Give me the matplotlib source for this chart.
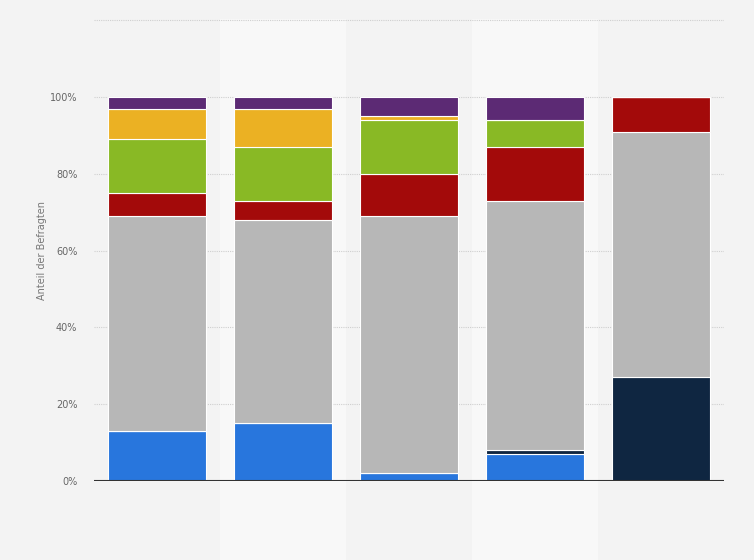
import matplotlib.pyplot as plt
import matplotlib.transforms as mtransforms
from matplotlib.patches import Rectangle
import numpy as np

# values in percent, stacked bottom -> top
groups = ["1", "2", "3", "4", "5"]
blue = [13, 15, 2, 7, 0]
navy = [0, 0, 0, 1, 27]
gray = [56, 53, 67, 65, 64]
red = [6, 5, 11, 14, 9]
green = [14, 14, 14, 7, 0]
orange = [8, 10, 1, 0, 0]
purple = [3, 3, 5, 6, 0]

series = [blue, navy, gray, red, green, orange, purple]
colors = ["#2876dd", "#0f2641", "#b7b7b7", "#a30a0a", "#89b925", "#ebb123", "#5c2a74"]

y_ticks = [0, 20, 40, 60, 80, 100]
y_tick_labels = ["0%", "20%", "40%", "60%", "80%", "100%"]

fig = plt.figure(figsize=(7.54, 5.6), dpi=100)
fig.patch.set_facecolor("#f3f3f3")
ax = fig.add_axes([0.1247, 0.141, 0.8355, 0.825])
ax.set_facecolor("#f3f3f3")

x = np.arange(len(groups))

# alternating column bands, running down to the bottom of the figure
trans = mtransforms.blended_transform_factory(ax.transData, ax.transAxes)
for i in x:
    if i % 2 == 1:
        ax.add_patch(Rectangle((i - 0.5, -0.18), 1.0, 1.18, transform=trans,
                               facecolor="#f8f8f8", lw=0, zorder=0, clip_on=False))

# dotted grid
for g in [20, 40, 60, 80, 100, 120]:
    ax.axhline(g, color="#cfcfcf", lw=0.8, ls=(0, (1, 1)), zorder=1)

bottom = np.zeros(len(groups))
for vals, c in zip(series, colors):
    vals = np.array(vals, dtype=float)
    ax.bar(x, vals, bottom=bottom, width=0.775, color=c, edgecolor="white",
           linewidth=0.8, zorder=2)
    bottom += vals

ax.axhline(0, color="#333333", lw=1.5, zorder=3)

ax.set_xlim(-0.5, len(groups) - 0.5)
ax.set_ylim(0, 120.3)
ax.set_xticks([])
ax.set_yticks(y_ticks)
ax.set_yticklabels(y_tick_labels, fontsize=7, color="#666666")
ax.tick_params(axis="y", length=0, pad=12)
for s in ax.spines.values():
    s.set_visible(False)

ax.set_ylabel("Anteil der Befragten", fontsize=7, color="#777777", labelpad=2)

fig.savefig("out.png", dpi=100, facecolor=fig.get_facecolor())
